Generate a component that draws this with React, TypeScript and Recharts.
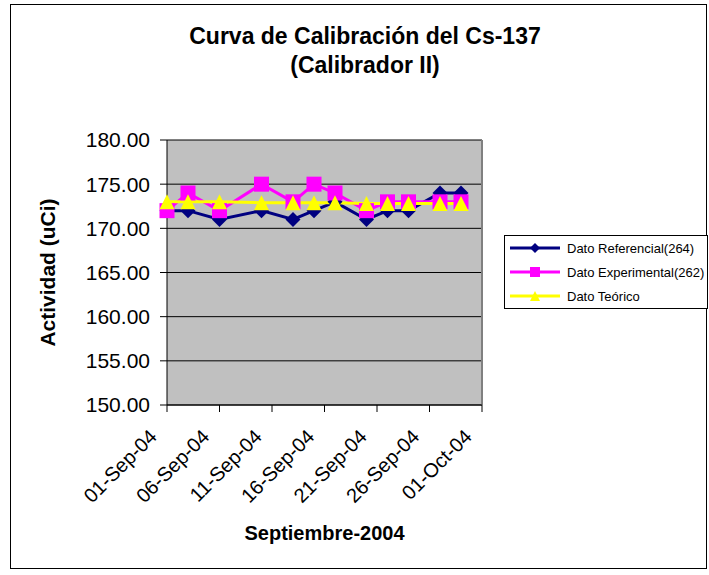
import React from "react";
import {
  LineChart,
  Line,
  XAxis,
  YAxis,
  CartesianGrid,
  Legend,
  ReferenceLine,
} from "recharts";

const fuente = "'Liberation Sans', Arial, sans-serif";

// fechas de medicion (sept 2004)
const fechas = [
  "2004-09-01",
  "2004-09-03",
  "2004-09-06",
  "2004-09-10",
  "2004-09-13",
  "2004-09-15",
  "2004-09-17",
  "2004-09-20",
  "2004-09-22",
  "2004-09-24",
  "2004-09-27",
  "2004-09-29",
];
const datoReferencial = [172, 172, 171, 172, 171, 172, 173, 171, 172, 172, 174, 174];
const datoExperimental = [172, 174, 172, 175, 173, 175, 174, 172, 173, 173, 173, 173];
const datoTeorico = [173.0, 173.0, 173.0, 172.9, 172.9, 172.9, 172.9, 172.8, 172.8, 172.8, 172.8, 172.8];

const fechasEje = [
  "2004-09-01",
  "2004-09-06",
  "2004-09-11",
  "2004-09-16",
  "2004-09-21",
  "2004-09-26",
  "2004-10-01",
];
const valoresEjeY = [150, 155, 160, 165, 170, 175, 180];

const MESES = ["Jan", "Feb", "Mar", "Apr", "May", "Jun", "Jul", "Aug", "Sep", "Oct", "Nov", "Dec"];

const toTime = (s: string) => Date.parse(s + "T00:00:00Z");

const formatFecha = (t: number) => {
  const d = new Date(t);
  const dia = String(d.getUTCDate()).padStart(2, "0");
  return `${dia}-${MESES[d.getUTCMonth()]}-${String(d.getUTCFullYear()).slice(2)}`;
};

const data = fechas.map((f, i) => ({
  fecha: toTime(f),
  referencial: datoReferencial[i],
  experimental: datoExperimental[i],
  teorico: datoTeorico[i],
}));

const AZUL = "#000080";
const MAGENTA = "#FF00FF";
const AMARILLO = "#FFFF00";

const diamante = (cx: number, cy: number, r: number, color: string) => (
  <polygon
    points={`${cx},${cy - r} ${cx + r},${cy} ${cx},${cy + r} ${cx - r},${cy}`}
    fill={color}
  />
);
const cuadrado = (cx: number, cy: number, r: number, color: string) => (
  <rect x={cx - r} y={cy - r} width={r * 2} height={r * 2} fill={color} />
);
const triangulo = (cx: number, cy: number, r: number, color: string) => (
  <polygon
    points={`${cx},${cy - r} ${cx + r},${cy + r} ${cx - r},${cy + r}`}
    fill={color}
  />
);

const makeDot =
  (forma: typeof diamante, r: number, color: string) => (props: any) => {
    const { cx, cy, index } = props;
    if (cx == null || cy == null) return <g key={index} />;
    return <g key={index}>{forma(cx, cy, r, color)}</g>;
  };

const series = [
  { key: "referencial", name: "Dato Referencial(264)", color: AZUL, forma: diamante, r: 7.5, rl: 5 },
  { key: "experimental", name: "Dato Experimental(262)", color: MAGENTA, forma: cuadrado, r: 7.5, rl: 5 },
  { key: "teorico", name: "Dato Teórico", color: AMARILLO, forma: triangulo, r: 7.5, rl: 5 },
];

const TickFecha = (props: any) => {
  const { x, y, payload } = props;
  const tx = x - 9;
  const ty = y + 24;
  return (
    <text
      x={tx}
      y={ty}
      transform={`rotate(-45, ${tx}, ${ty})`}
      textAnchor="end"
      fontSize={20}
      fontFamily={fuente}
      fill="#000"
    >
      {formatFecha(payload.value)}
    </text>
  );
};

const CajaLeyenda = () => (
  <div
    style={{
      border: "1px solid #000",
      background: "#fff",
      width: 204,
      height: 74,
      boxSizing: "border-box",
      fontFamily: fuente,
      fontSize: 13,
      color: "#000",
    }}
  >
    {series.map((s) => (
      <div key={s.key} style={{ display: "flex", alignItems: "center", height: 24 }}>
        <svg width={58} height={16} style={{ marginLeft: 4 }}>
          <line x1={1} y1={8} x2={51} y2={8} stroke={s.color} strokeWidth={3} />
          {s.forma(26, 8, s.rl, s.color)}
        </svg>
        <span>{s.name}</span>
      </div>
    ))}
  </div>
);

export default function App() {
  return (
    <div style={{ position: "absolute", left: 0, top: 0, width: 709, height: 575, background: "#fff" }}>
      <div
        style={{
          position: "absolute",
          left: 10,
          top: 4,
          width: 697,
          height: 565,
          border: "1px solid #000",
          boxSizing: "border-box",
        }}
      />
      <div
        style={{
          position: "absolute",
          left: 165,
          top: 22,
          width: 400,
          textAlign: "center",
          fontFamily: fuente,
          fontWeight: "bold",
          fontSize: 23,
          lineHeight: "29px",
          zIndex: 2,
        }}
      >
        Curva de Calibración del Cs-137
        <br />
        (Calibrador II)
      </div>
      <div style={{ position: "absolute", left: 0, top: 0 }}>
        <LineChart
          width={709}
          height={575}
          data={data}
          margin={{ top: 140, right: 227, bottom: 25, left: 97 }}
        >
          <CartesianGrid vertical={false} stroke="#000" fill="#C0C0C0" fillOpacity={1} />
          <XAxis
            type="number"
            dataKey="fecha"
            domain={[toTime(fechasEje[0]), toTime(fechasEje[fechasEje.length - 1])]}
            ticks={fechasEje.map(toTime)}
            height={145}
            tickSize={7}
            tickMargin={2}
            tick={<TickFecha />}
            stroke="#000"
            interval={0}
            label={{
              value: "Septiembre-2004",
              position: "insideBottom",
              offset: 10,
              fontSize: 20,
              fontWeight: "bold",
              fontFamily: fuente,
              fill: "#000",
            }}
          />
          <YAxis
            type="number"
            domain={[150, 180]}
            ticks={valoresEjeY}
            width={70}
            tickSize={7}
            tickMargin={10}
            interval={0}
            tickFormatter={(v: number) => v.toFixed(2)}
            tick={{ fontSize: 21, fill: "#000", fontFamily: fuente }}
            stroke="#000"
            label={{
              value: "Actividad (uCi)",
              angle: -90,
              position: "center",
              dx: -84,
              fontSize: 21,
              fontWeight: "bold",
              fontFamily: fuente,
              fill: "#000",
            }}
          />
          <ReferenceLine
            x={toTime(fechasEje[fechasEje.length - 1])}
            stroke="#808080"
            strokeWidth={2}
          />
          <Legend
            layout="horizontal"
            verticalAlign="middle"
            align="center"
            content={<CajaLeyenda />}
            wrapperStyle={{ left: 504, top: 235, width: 204 }}
          />
          {series.map((s) => (
            <Line
              key={s.key}
              type="linear"
              dataKey={s.key}
              name={s.name}
              stroke={s.color}
              strokeWidth={3}
              dot={makeDot(s.forma, s.r, s.color)}
              activeDot={false}
              isAnimationActive={false}
            />
          ))}
        </LineChart>
      </div>
    </div>
  );
}
